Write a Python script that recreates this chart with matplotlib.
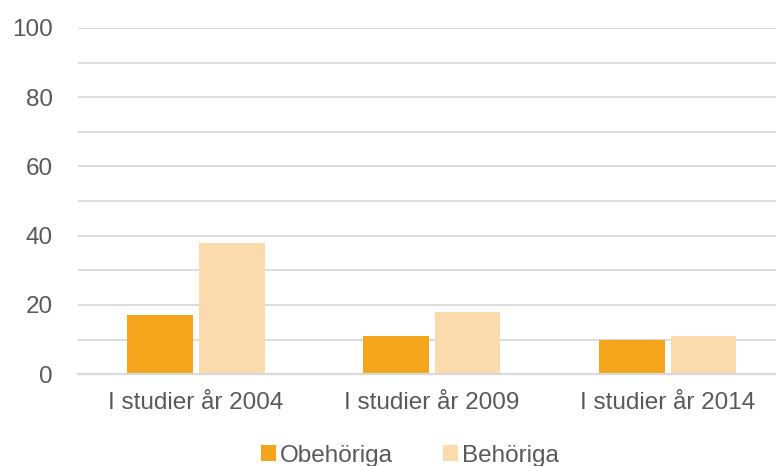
import numpy as np
import matplotlib.pyplot as plt

categories = ["I studier år 2004", "I studier år 2009", "I studier år 2014"]
obehoriga = [17, 11, 10]
behoriga = [38, 18, 11]
series_names = ["Obehöriga", "Behöriga"]

plt.rcParams["font.family"] = ["Liberation Sans", "DejaVu Sans"]
text_color = "#595959"
grid_color = "#D9D9D9"

fig = plt.figure(figsize=(7.76, 4.66), dpi=100)
# plot area runs slightly past the right edge, as in the reference
ax = fig.add_axes([0.1005, 0.197, 0.912, 0.743])

x = np.arange(len(categories))
w = 0.278
gap = 0.013
ax.bar(x - w / 2 - gap, obehoriga, w, color="#F5A51B", label=series_names[0], zorder=3)
ax.bar(x + w / 2 + gap, behoriga, w, color="#FBDBAE", label=series_names[1], zorder=3)

ax.set_ylim(0, 100)
ax.set_xlim(-0.5, len(categories) - 0.5)
ax.set_yticks(range(0, 101, 20))
ax.set_yticks(range(0, 101, 10), minor=True)
ax.set_xticks(x)
ax.set_xticklabels(categories)
ax.grid(axis="y", which="both", color=grid_color, linewidth=1.3, zorder=0)

for s in ["top", "right", "left"]:
    ax.spines[s].set_visible(False)
ax.spines["bottom"].set_color(grid_color)
ax.spines["bottom"].set_linewidth(1.6)
ax.spines["bottom"].set_zorder(4)

ax.tick_params(axis="both", which="both", length=0, colors=text_color, labelsize=17.5)
ax.tick_params(axis="y", pad=18)
ax.tick_params(axis="x", pad=13)

ax.legend(loc="center", bbox_to_anchor=(0.469, -0.235), ncol=2, frameon=False,
          fontsize=17.5, labelcolor=text_color, handlelength=0.6, handleheight=0.6,
          handletextpad=0.15, columnspacing=2.1)

fig.savefig("out.png", dpi=100)
